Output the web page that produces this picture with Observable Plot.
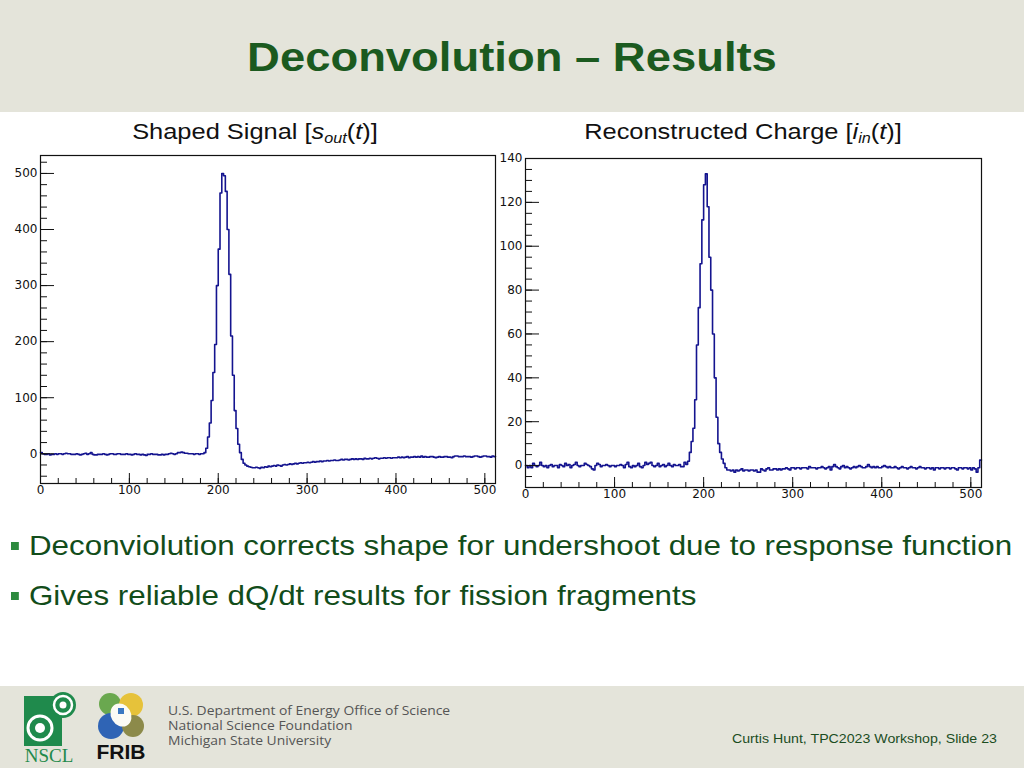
<!DOCTYPE html>
<html><head><meta charset="utf-8">
<script src="https://cdn.jsdelivr.net/npm/d3@7"></script>
<script src="https://cdn.jsdelivr.net/npm/@observablehq/plot@0.6"></script>
<style>
html,body{margin:0;padding:0;}
body{width:1024px;height:768px;position:relative;overflow:hidden;background:#fff;font-family:"Liberation Sans",Arial,sans-serif;}
.band{position:absolute;left:0;width:1024px;background:#e4e4da;}
#top{top:0;height:112px;}
#bottom{top:686px;height:82px;}
#title{position:absolute;top:33px;left:0;width:1024px;text-align:center;font-weight:bold;font-size:40px;line-height:48px;color:#1b5a1f;transform:scaleX(1.135);}
.sub{position:absolute;top:119px;font-size:22px;line-height:26px;color:#111;white-space:nowrap;transform:translateX(-50%) scaleX(1.155);}
.sub sub{font-size:14px;vertical-align:-4px;line-height:0;}
.bul{position:absolute;left:11px;font-size:28px;line-height:34px;color:#124d1a;white-space:nowrap;transform-origin:0 50%;transform:scaleX(1.12);}
.bul .sq{display:inline-block;width:7px;height:8px;background:#2d8a3e;margin-right:9px;position:relative;top:-5px;}
#plotL{position:absolute;left:0;top:145px;}
#plotR{position:absolute;left:497px;top:148px;}
.fund{position:absolute;left:168px;top:703px;font-family:"Open Sans",Lato,sans-serif;font-size:12.5px;line-height:15px;color:#555;white-space:nowrap;transform-origin:0 0;transform:scaleX(1.11);}
#credit{position:absolute;left:732px;top:731px;font-size:13px;line-height:16px;color:#1b4d1f;white-space:nowrap;transform-origin:0 0;transform:scaleX(1.09);}
#logos{position:absolute;left:0;top:686px;}
</style></head>
<body>
<div class="band" id="top"></div>
<div class="band" id="bottom"></div>
<div id="title">Deconvolution – Results</div>
<div class="sub" style="left:255px">Shaped Signal [<i>s</i><sub><i>out</i></sub>(<i>t</i>)]</div>
<div class="sub" style="left:743px">Reconstructed Charge [<i>i</i><sub><i>in</i></sub>(<i>t</i>)]</div>
<div id="plotL"></div>
<div id="plotR"></div>
<div class="bul" style="top:529px"><span class="sq"></span>Deconviolution corrects shape for undershoot due to response function</div>
<div class="bul" style="top:579px"><span class="sq"></span>Gives reliable dQ/dt results for fission fragments</div>
<svg id="logos" width="160" height="82" viewBox="0 0 160 82">
  <rect x="24" y="10" width="38" height="50" fill="#1f8a4c"/>
  <circle cx="63" cy="19" r="13" fill="#1f8a4c"/>
  <circle cx="63" cy="19" r="9" fill="none" stroke="#fff" stroke-width="2.5"/>
  <circle cx="63" cy="19" r="3.5" fill="#fff"/>
  <circle cx="40" cy="42" r="12" fill="none" stroke="#fff" stroke-width="3"/>
  <circle cx="40" cy="42" r="5" fill="#fff"/>
  <text x="49" y="76" text-anchor="middle" font-family="Liberation Serif" font-size="19" fill="#1f8a4c">NSCL</text>
  <circle cx="110" cy="18" r="11" fill="#6aa84f"/>
  <circle cx="131" cy="19" r="12" fill="#e6c23a"/>
  <circle cx="111" cy="40" r="13" fill="#2f64b5"/>
  <circle cx="133" cy="40" r="11" fill="#8c8a4a"/>
  <ellipse cx="121" cy="29" rx="10" ry="12" fill="#fbfbf5" transform="rotate(-30 121 29)"/>
  <rect x="118" y="22" width="6" height="6" fill="#3a78c2"/>
  <text x="121" y="73" text-anchor="middle" font-family="Liberation Sans" font-weight="bold" font-size="21" fill="#111">FRIB</text>
</svg>
<div class="fund">U.S. Department of Energy Office of Science<br>National Science Foundation<br>Michigan State University</div>
<div id="credit">Curtis Hunt, TPC2023 Workshop, Slide 23</div>
<script>
// Histogram bin width (time buckets) and bin contents
const binWidth = 2;
const timeDomain = [0, 512];

const shapedValues = [
  // t 0..182
  2,0,-1,-1,0,-2,-1,-1,0,-1, 0,0,-1,0,1,0,0,-1,-1,-1,
  0,-1,-2,-1,0,1,-1,0,2,-1, -2,-2,-1,-1,-1,0,-1,-2,-1,0,
  0,-1,-1,0,0,-1,-1,-1,0,-1, -1,-2,-1,0,-1,-1,-2,-1,-2,-3,
  -1,-1,0,-1,-1,-1,-2,-2,-1,-2, -1,-1,0,1,0,-1,0,2,2,3,
  2,1,1,0,0,0,-1,0,0,-1, 0,0,
  // t 184..238 (peak)
  2,10,30,55,95,145,195,300,365,465,500,496,468,400,320,210,140,77,45,17,2,-10,-17,-20,-22,-23,-24,-25,
  // t 240..298
  -25,-24,-25,-26,-24,-25,-23,-24,-22,-23, -22,-21,-22,-20,-21,-22,-20,-19,-20,-19,
  -18,-19,-18,-17,-18,-17,-16,-17,-16,-16,
  // t 300..398
  -15,-16,-15,-14,-15,-14,-14,-13,-14,-13, -13,-12,-13,-12,-12,-11,-12,-12,-11,-10,
  -11,-10,-10,-11,-10,-9,-10,-9,-10,-9, -9,-10,-8,-9,-9,-8,-9,-8,-7,-8,
  -9,-8,-8,-7,-8,-7,-7,-8,-7,-7,
  // t 400..510
  -7,-6,-7,-6,-7,-6,-5,-7,-6,-6, -5,-6,-5,-6,-4,-6,-5,-6,-6,-5,
  -5,-6,-7,-6,-5,-6,-6,-5,-5,-6, -6,-7,-5,-4,-4,-5,-5,-5,-4,-5,
  -5,-5,-6,-5,-4,-4,-5,-6,-5,-4, -4,-5,-5,-6,-4,-5
];

const reconValues = [
  // t 0..180
  0,-1,0,-1,1,0,-0.5,0,1.5,0, -0.5,0,-1,0,0.5,-0.5,0,0,-1,0.5,
  0,-0.5,1,0,0.5,-1,0,0.5,1.5,0, -0.5,0,0,1,0.5,0,-0.5,-1.5,-2,0,
  1,0.5,-0.5,0,0,0.5,0,-0.5,0,0, -0.5,0,0,0.5,0,-1,0.5,1.5,-0.5,-1,
  0,-0.5,0,1,-0.5,-1,0,1.5,0.5,1, 1.5,0,-0.5,0,1,-0.5,0,0.5,-0.5,0,
  1,0,-0.5,0.5,0,0,0.5,-0.5,-0.5,1.5, 0.5,
  // t 182..226 (peak)
  2,6,11,17,30,55,72,92,112,128,133,118,95,80,60,40,22,10,6,3,1,-1,-2,
  // t 228..288
  -2,-2.5,-2,-3,-2,-2.5,-2,-1.5,-2.5,-2, -2,-2.5,-2,-2,-2.5,-2,-3,-3,-1.5,-2,
  -2.5,-1.5,-1,-2,-2,-1.5,-1.5,-2,-1.5,-2, -1.5,
  // t 290..390
  -1.5,-1,-1.5,-2,-1,-1,-1.5,-1,-1,-1.5, -1,-1,-1,-1.5,-0.5,-1,-1,-1,-1.5,-1,
  -1,-0.5,-1,-1.5,-1,-0.5,-2,-0.5,0.5,-0.5, -1,-1.5,-0.5,0,-1,-0.5,-1,-1.5,-1,-0.5,
  -1,-0.5,0,-0.5,-1,-1,-0.5,0.5,-0.5,-1, -0.5,
  // t 392..510
  -1,-0.5,-1,-1,-0.5,0,-0.5,-1,-0.5,-1, -1,-0.5,-1,-1.5,-1,-0.5,-1,-1,-1.5,-1,
  -0.5,-1,-1,-1.5,-1,-0.5,-1,-1,-1.5,-1, -1,-1.5,-1,-2,-1,-1,-1.5,-1,-1,-1.5,
  -1,-1,-1.5,-1,-1,-1.5,-2,-1,-1,-1.5, -1,-1,-1.5,-1,-2,-1,-1.5,-3,-1,2.5
];

// Axis ticks
const xMajor = [0,100,200,300,400,500];
const xMinor = [0,20,40,60,80,100,120,140,160,180,200,220,240,260,280,300,320,340,360,380,400,420,440,460,480,500];
const shapedYDomain = [-53, 532];
const shapedYMajor = [0,100,200,300,400,500];
const shapedYMinor = [-40,-20,0,20,40,60,80,100,120,140,160,180,200,220,240,260,280,300,320,340,360,380,400,420,440,460,480,500,520];
const reconYDomain = [-10, 140];
const reconYMajor = [0,20,40,60,80,100,120,140];
const reconYMinor = [-5,0,5,10,15,20,25,30,35,40,45,50,55,60,65,70,75,80,85,90,95,100,105,110,115,120,125,130,135,140];

function hist({values, yDomain, yMajor, yMinor, width, height, marginLeft, marginRight, marginTop, marginBottom}) {
  const innerW = width - marginLeft - marginRight;
  const innerH = height - marginTop - marginBottom;
  const pts = values.map((v, i) => ({t: i * binWidth, v}));
  pts.push({t: values.length * binWidth, v: values[values.length - 1]});
  return Plot.plot({
    width, height, marginLeft, marginRight, marginTop, marginBottom,
    style: {fontFamily: "DejaVu Sans", fontSize: "12px", background: "transparent", color: "#111", overflow: "visible"},
    x: {domain: timeDomain},
    y: {domain: yDomain},
    marks: [
      Plot.line(pts, {x: "t", y: "v", curve: "step-after", stroke: "#14148f", strokeWidth: 1.6}),
      Plot.tickY(yMinor, {y: d => d, stroke: "#111", insetRight: innerW - 7}),
      Plot.tickY(yMajor, {y: d => d, stroke: "#111", insetRight: innerW - 14}),
      Plot.tickX(xMinor, {x: d => d, stroke: "#111", insetTop: innerH - 5}),
      Plot.tickX(xMajor, {x: d => d, stroke: "#111", insetTop: innerH - 10}),
      Plot.axisY(yMajor, {tickSize: 0, tickPadding: 3, label: null}),
      Plot.axisX(xMajor, {tickSize: 0, tickPadding: 2, label: null}),
      Plot.frame({stroke: "#111", strokeWidth: 1.2})
    ]
  });
}

document.getElementById("plotL").append(hist({
  values: shapedValues, yDomain: shapedYDomain, yMajor: shapedYMajor, yMinor: shapedYMinor,
  width: 500, height: 355, marginLeft: 40, marginRight: 5, marginTop: 10, marginBottom: 17
}));
document.getElementById("plotR").append(hist({
  values: reconValues, yDomain: reconYDomain, yMajor: reconYMajor, yMinor: reconYMinor,
  width: 494, height: 355, marginLeft: 28, marginRight: 10, marginTop: 10, marginBottom: 16
}));
</script>
</body></html>
